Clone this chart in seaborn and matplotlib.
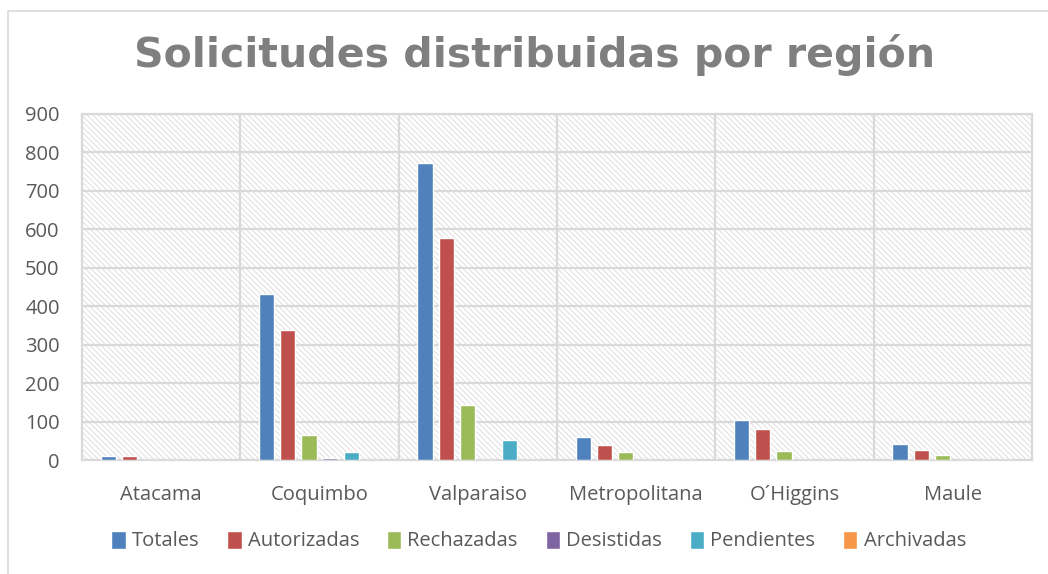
import pandas as pd
import matplotlib.pyplot as plt
import seaborn as sns
from matplotlib.patches import Rectangle

# Datos
regiones = ['Atacama', 'Coquimbo', 'Valparaiso', 'Metropolitana', 'O´Higgins', 'Maule']
totales = [10, 432, 773, 60, 104, 42]
autorizadas = [10, 338, 578, 38, 81, 26]
rechazadas = [0, 65, 142, 20, 24, 14]
desistidas = [0, 5, 0, 0, 0, 0]
pendientes = [0, 22, 52, 0, 0, 0]
archivadas = [0, 0, 0, 0, 0, 0]

series = ['Totales', 'Autorizadas', 'Rechazadas', 'Desistidas', 'Pendientes', 'Archivadas']
colores = ['#4f81bd', '#c0504d', '#9bbb59', '#8064a2', '#4bacc6', '#f79646']

valores = [totales, autorizadas, rechazadas, desistidas, pendientes, archivadas]
filas = []
for nombre, vals in zip(series, valores):
    for reg, v in zip(regiones, vals):
        filas.append({'region': reg, 'serie': nombre, 'valor': v})
df = pd.DataFrame(filas)

sns.set_theme(style="white")
plt.rcParams['font.family'] = ['Open Sans', 'DejaVu Sans']
plt.rcParams['hatch.color'] = '#dedede'
plt.rcParams['hatch.linewidth'] = 0.7

fig = plt.figure(figsize=(10.48, 5.74), dpi=100)
ax = fig.add_axes([0.0782, 0.1986, 0.9065, 0.6028])

# fondo rayado del área de trazado
ax.add_patch(Rectangle((0, 0), 1, 1, transform=ax.transAxes, facecolor='white',
                       edgecolor='#dedede', linewidth=0, hatch='\\\\\\\\\\\\', zorder=0))

sns.barplot(data=df, x='region', y='valor', hue='serie', palette=colores, saturation=1,
            width=0.8, gap=0.28, ax=ax, zorder=3, legend=True)

ax.set_ylim(0, 900)
ax.set_xlim(-0.5, len(regiones) - 0.5)
ax.set_yticks(range(0, 901, 100))
ax.set_xticks(range(len(regiones)))
ax.set_xticks([i + 0.5 for i in range(len(regiones) - 1)], minor=True)
ax.grid(axis='y', color='#d9d9d9', linewidth=1.6, zorder=1)
ax.grid(axis='x', which='minor', color='#d9d9d9', linewidth=1.6, zorder=1)
ax.grid(axis='x', which='major', visible=False)
ax.set_axisbelow(True)
for s in ax.spines.values():
    s.set_color('#d9d9d9')
    s.set_linewidth(1.6)
ax.tick_params(axis='both', which='both', length=0, labelsize=14.5, colors='#595959')
ax.tick_params(axis='x', pad=18)
ax.tick_params(axis='y', pad=16)
ax.set_xlabel('')
ax.set_ylabel('')

leg = ax.legend(loc='center', bbox_to_anchor=(0.514, 0.0575), bbox_transform=fig.transFigure,
                ncol=6, frameon=False, fontsize=14.5, handlelength=0.7, handleheight=1.0,
                handletextpad=0.3, columnspacing=1.4)
for t in leg.get_texts():
    t.set_color('#595959')

fig.text(0.5105, 0.904, 'Solicitudes distribuidas por región', ha='center', va='center',
         fontsize=29.5, fontweight='bold', color='#7f7f7f', family='DejaVu Sans')

# borde del gráfico
fig.patches.append(Rectangle((8 / 1048, -0.05), 1.1, 1 - 11 / 574 + 0.05,
                             transform=fig.transFigure, fill=False,
                             edgecolor='#d9d9d9', linewidth=1.2))

fig.savefig('out.png', dpi=100)
